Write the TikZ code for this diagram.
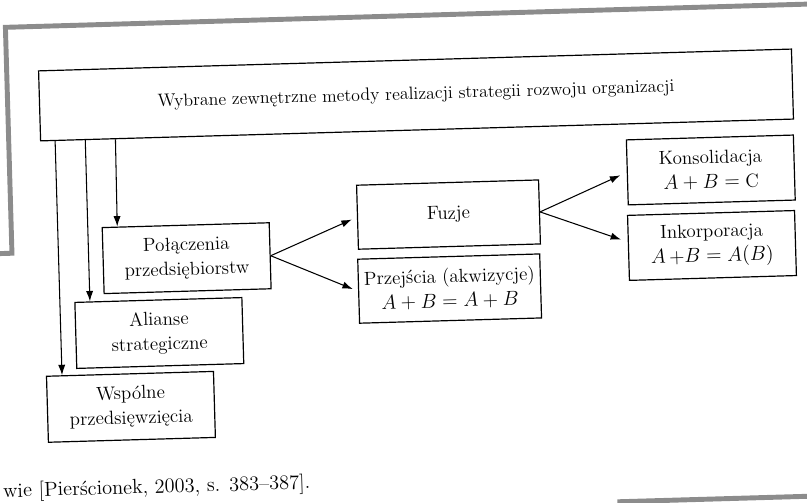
\documentclass[tikz,border=0pt]{standalone}
\usepackage{amsmath}
\usepackage{fontspec}
\usepackage{tikz}
\usetikzlibrary{arrows.meta,calc}

\begin{document}
\begin{tikzpicture}[>={Latex[length=2.6mm,width=1.8mm]},x=0.025cm,y=-0.025cm,
  box/.style={draw,line width=0.85pt,align=center,inner sep=1pt,font=\fontsize{13.5}{17.5}\selectfont},
  smallbox/.style={box,minimum width=4.175cm,minimum height=1.65cm},
  midbox/.style={box,minimum width=4.55cm,minimum height=1.6cm},
  pagerule/.style={draw=black!45,line width=3.5pt}]
\useasboundingbox (0,0) rectangle (807,503);
\clip (0,0) rectangle (807,503);
\begin{scope}[rotate around={1.66:(400,250)},transform shape]
% edges of the neighbouring frames on the page
\draw[pagerule] (840,16) -- (12,16) -- (12,242) -- (-30,242);
\draw[pagerule] (610,508) -- (860,508);

\node[box,minimum width=18.825cm,minimum height=1.75cm,font=\fontsize{12.7}{15}\selectfont] (top) at (420.5,95.5)
  {Wybrane zewnętrzne metody realizacji strategii rozwoju organizacji};

\node[smallbox] (polaczenia) at (186.5,252) {Połączenia\\przedsiębiorstw};
\node[smallbox] (alianse) at (157,326) {Alianse\\strategiczne};
\node[smallbox] (wspolne) at (126.5,399) {Wspólne\\przedsięwzięcia};

\node[midbox] (fuzje) at (449.5,216) {Fuzje};
\node[midbox] (przejecia) at (448.5,290) {Przejścia (akwizycje)\\$A+B=A+B$};

\node[smallbox,minimum height=1.625cm] (konsolidacja) at (713,179) {Konsolidacja\\$A+B=\mathrm{C}$};
\node[smallbox,minimum height=1.625cm] (inkorporacja) at (712,254.5) {Inkorporacja\\$A\,{+}B=A(B)$};

\draw[->,line width=0.75pt] ($(top.south west)!0.02!(top.south east)$) -- ($(wspolne.north west)!0.096!(wspolne.north east)$);
\draw[->,line width=0.75pt] ($(top.south west)!0.06!(top.south east)$) -- ($(alianse.north west)!0.093!(alianse.north east)$);
\draw[->,line width=0.75pt] ($(top.south west)!0.1!(top.south east)$) -- ($(polaczenia.north west)!0.093!(polaczenia.north east)$);

\draw[->,line width=0.75pt,shorten >=4pt] (polaczenia.east) -- (fuzje.west);
\draw[->,line width=0.75pt,shorten >=4pt] (polaczenia.east) -- (przejecia.west);
\draw[->,line width=0.75pt,shorten >=5pt] (fuzje.east) -- (konsolidacja.west);
\draw[->,line width=0.75pt,shorten >=5pt] (fuzje.east) -- ([yshift=0.15cm]inkorporacja.west);

\node[anchor=base west,inner sep=0pt,font=\fontsize{14.5}{17}\selectfont] (zrodlo) at (-4,486)
  {wie [Pierścionek, 2003, s. 383--387].};
\end{scope}
\end{tikzpicture}
\end{document}
